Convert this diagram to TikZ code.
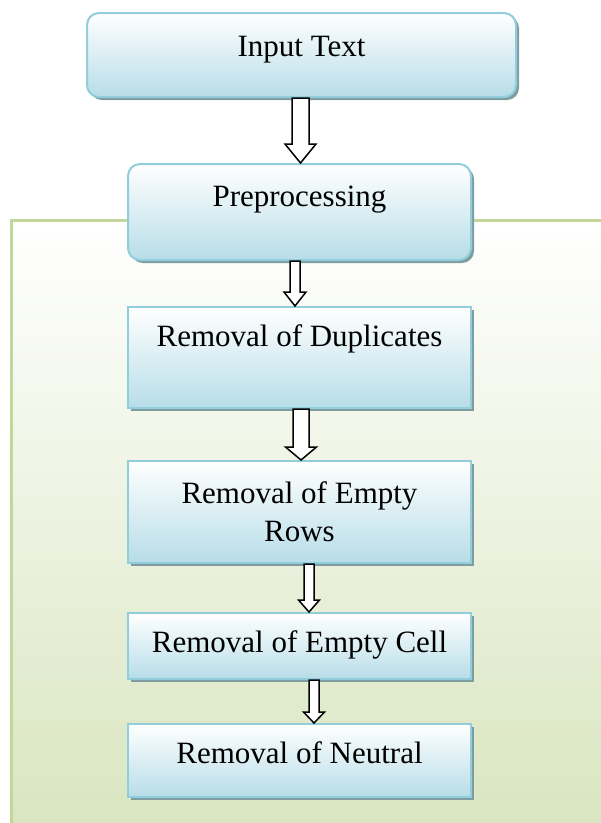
\documentclass[tikz,border=0pt]{standalone}
\usepackage{fontspec}
\setmainfont{Liberation Serif}
\usepackage{xcolor}
\usepackage{tikz}
\usetikzlibrary{shadows, calc}

\definecolor{boxblue}{HTML}{B7DDE8}
\definecolor{boxline}{HTML}{92CDDC}
\definecolor{boxshade}{HTML}{7F9CA1}
\definecolor{panelline}{HTML}{C3D69B}
\definecolor{panelfill}{HTML}{D7E4BD}

\begin{document}
\begin{tikzpicture}[x=1pt, y=-1pt,
  stage/.style={draw=boxline, line width=2pt, top color=white, bottom color=boxblue,
    minimum width=343pt, inner xsep=0pt, inner ysep=0pt, anchor=north,
    font=\fontsize{31}{38}\selectfont,
    drop shadow={shadow xshift=3pt, shadow yshift=-3pt, fill=boxshade, opacity=1}},
  roundstage/.style={stage, rounded corners=12pt},
  hollow/.style={draw=black, fill=white, line width=1.5pt, line join=miter}]
\useasboundingbox (0,0) rectangle (601,823);
\clip (0,0) rectangle (601,823);
% green panel behind the cleaning steps
\draw[panelline, line width=3pt, top color=white, bottom color=panelfill] (11.5,220) rectangle (640,860);

\node[roundstage, minimum width=429pt, text height=43pt, text depth=41pt] (intxt) at (301.5,12) {Input Text};
\node[roundstage, text height=42pt, text depth=54pt] (prep) at (299.5,163) {Preprocessing};
\node[stage, text height=39pt, text depth=62pt] (dup) at (299.5,306) {Removal of Duplicates};
\node[stage, align=center, minimum height=102pt, inner ysep=5pt] (rows) at (299.5,460) {Removal of Empty\\Rows};
\node[stage, text height=39pt, text depth=27pt] (cell) at (299.5,612) {Removal of Empty Cell};
\node[stage, text height=39pt, text depth=34pt] (neut) at (299.5,723) {Removal of Neutral};

% hollow block arrows: from/to/offset/shaft/head width/head length
\foreach \a/\b/\dx/\sw/\hw/\hl in {intxt/prep/-1/8.5/15.5/19, prep/dup/-4.5/5/11/14,
    dup/rows/1.5/8/15.5/13, rows/cell/9.5/5/10.5/12, cell/neut/14.5/5/10.5/11}{
  \draw[hollow] let \p1=(\a.south), \p2=(\b.north) in
    ({\x1+(\dx-\sw)*1pt}, \y1) -- ({\x1+(\dx-\sw)*1pt}, {\y2+\hl*1pt})
    -- ({\x1+(\dx-\hw)*1pt}, {\y2+\hl*1pt}) -- ({\x1+\dx*1pt}, \y2)
    -- ({\x1+(\dx+\hw)*1pt}, {\y2+\hl*1pt}) -- ({\x1+(\dx+\sw)*1pt}, {\y2+\hl*1pt})
    -- ({\x1+(\dx+\sw)*1pt}, \y1) -- cycle;
}
\end{tikzpicture}
\end{document}
